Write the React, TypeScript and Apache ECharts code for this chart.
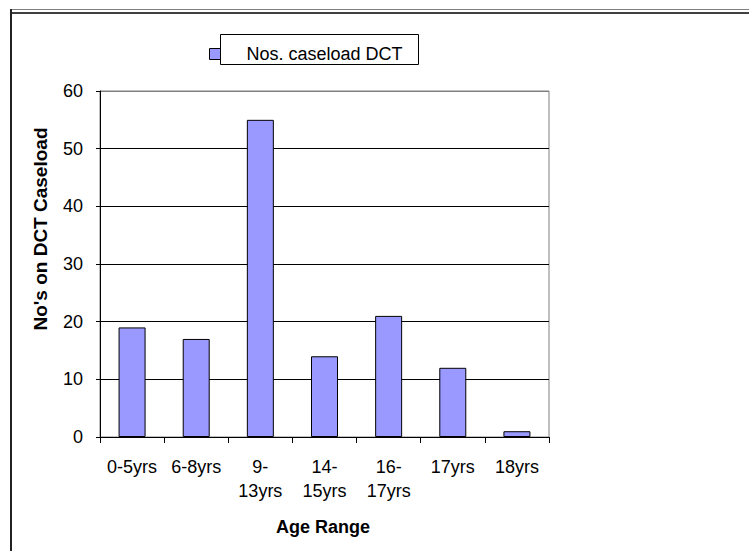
import React, { useEffect, useRef } from "react";
import * as echarts from "echarts";

const categories = ["0-5yrs", "6-8yrs", "9-13yrs", "14-15yrs", "16-17yrs", "17yrs", "18yrs"];
const caseload = [19, 17, 55, 14, 21, 12, 1];
const seriesName = "Nos. caseload DCT";
const xTitle = "Age Range";
const yTitle = "No's on DCT Caseload";
const yMin = 0;
const yMax = 60;
const yInterval = 10;

const FONT = "'Liberation Sans', Arial, Helvetica, sans-serif";

export default function App() {
  const ref = useRef<HTMLDivElement>(null);
  useEffect(() => {
    const chart = echarts.init(ref.current!, null, { renderer: "svg" });
    chart.setOption({
      animation: false,
      backgroundColor: "#ffffff",
      textStyle: { fontFamily: FONT },
      grid: {
        left: 100,
        top: 91,
        width: 449,
        height: 346,
        show: true,
        borderColor: "#808080",
        borderWidth: 1,
        backgroundColor: "transparent",
      },
      legend: {
        data: [seriesName],
        left: 209,
        top: 45,
        padding: 0,
        itemWidth: 11,
        itemHeight: 11,
        icon: "rect",
        selectedMode: false,
        itemStyle: { borderColor: "#000", borderWidth: 1 },
        textStyle: {
          fontFamily: FONT,
          fontSize: 18,
          color: "#000",
          padding: [0, 0, 0, 21],
        },
        z: 10,
      },
      xAxis: {
        type: "category",
        data: categories,
        boundaryGap: true,
        axisLine: { show: true, lineStyle: { color: "#000", width: 1 } },
        axisTick: { show: true, length: 6, lineStyle: { color: "#000" } },
        axisLabel: {
          interval: 0,
          margin: 18,
          color: "#000",
          fontSize: 18,
          fontFamily: FONT,
          lineHeight: 24,
          formatter: (v: string) => (v.length > 6 ? v.replace("-", "-\n") : v),
        },
        splitLine: { show: false },
      },
      yAxis: {
        type: "value",
        min: yMin,
        max: yMax,
        interval: yInterval,
        axisLine: { show: true, lineStyle: { color: "#000", width: 1 } },
        axisTick: { show: true, length: 4, lineStyle: { color: "#000" } },
        axisLabel: {
          margin: 17,
          color: "#000",
          fontSize: 18,
          fontFamily: FONT,
        },
        splitLine: {
          show: true,
          lineStyle: {
            color: ["#000", "#000", "#000", "#000", "#000", "#000", "#808080"],
            width: 1,
          },
        },
      },
      series: [
        {
          name: seriesName,
          type: "bar",
          data: caseload,
          barWidth: 27,
          itemStyle: { color: "#9999FF", borderColor: "#000", borderWidth: 1 },
          z: 3,
        },
      ],
      graphic: [
        {
          type: "line",
          shape: { x1: 11, y1: 9.5, x2: 749, y2: 9.5 },
          style: { stroke: "#808080", lineWidth: 1 },
          silent: true,
        },
        {
          type: "line",
          shape: { x1: 11, y1: 13, x2: 749, y2: 13 },
          style: { stroke: "#404040", lineWidth: 2 },
          silent: true,
        },
        {
          type: "line",
          shape: { x1: 11, y1: 9, x2: 11, y2: 551 },
          style: { stroke: "#222", lineWidth: 2 },
          silent: true,
        },
        {
          type: "rect",
          shape: { x: 220.5, y: 34.5, width: 198, height: 30 },
          style: { fill: "#fff", stroke: "#000", lineWidth: 1 },
          z: 1,
          silent: true,
        },
        {
          type: "text",
          x: 40,
          y: 229,
          rotation: Math.PI / 2,
          style: {
            text: yTitle,
            fontFamily: FONT,
            fontSize: 19,
            fontWeight: "bold",
            fill: "#000",
            align: "center",
            verticalAlign: "middle",
          },
          silent: true,
        },
        {
          type: "text",
          x: 323,
          y: 527,
          style: {
            text: xTitle,
            fontFamily: FONT,
            fontSize: 18,
            fontWeight: "bold",
            fill: "#000",
            align: "center",
            verticalAlign: "middle",
          },
          silent: true,
        },
      ],
    });
    return () => chart.dispose();
  }, []);
  return (
    <div
      ref={ref}
      style={{ position: "fixed", left: 0, top: 0, width: 749, height: 551, background: "#fff" }}
    />
  );
}
